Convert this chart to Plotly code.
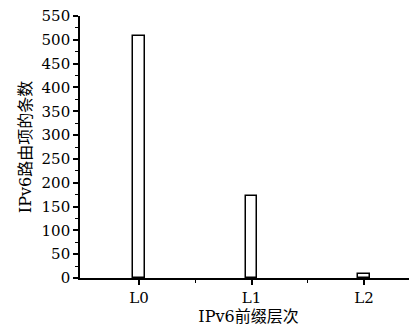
import plotly.graph_objects as go

categories = ["L0", "L1", "L2"]
counts = [508, 172, 8]
y_ticks = list(range(0, 551, 50))

fig = go.Figure()
fig.add_trace(go.Bar(
    x=list(range(len(categories))), y=counts,
    width=0.105,
    marker=dict(color="white", line=dict(color="black", width=1.5)),
))

font_serif = "DejaVu Serif, Noto Sans CJK SC, serif"
fig.update_layout(
    width=409, height=326,
    margin=dict(l=72, r=0, t=8, b=56),
    plot_bgcolor="white", paper_bgcolor="white",
    showlegend=False,
    font=dict(family=font_serif, size=15, color="black"),
    bargap=0,
)
fig.update_xaxes(
    range=[-0.524, 2.47],
    tickmode="array", tickvals=list(range(len(categories))), ticktext=categories,
    showline=True, linecolor="black", linewidth=1.6,
    ticks="outside", ticklen=5, tickwidth=1.5, tickcolor="black",
    minor=dict(tickmode="array", tickvals=[0.5, 1.5], ticks="outside", ticklen=3, tickwidth=1, tickcolor="black"),
    showgrid=False, zeroline=False, automargin=False,
    title=dict(text="IPv6前缀层次", font=dict(size=16), standoff=4),
    tickfont=dict(size=15), ticklabeloverflow="allow",
)
fig.update_yaxes(
    range=[0, 550],
    tickmode="array", tickvals=y_ticks, ticktext=[str(v) for v in y_ticks],
    showline=True, linecolor="black", linewidth=1.6,
    ticks="outside", ticklen=5, tickwidth=1.5, tickcolor="black",
    minor=dict(dtick=25, ticks="outside", ticklen=3, tickwidth=1, tickcolor="black"),
    showgrid=False, zeroline=False, automargin=False,
    title=dict(text="IPv6路由项的条数", font=dict(size=16), standoff=6),
    tickfont=dict(size=15), ticklabeloverflow="allow",
)
fig.write_html("out.html")
